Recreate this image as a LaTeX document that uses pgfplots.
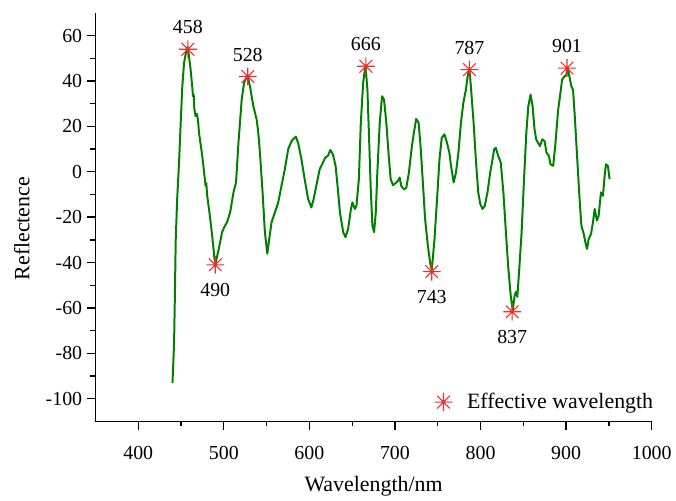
\documentclass[border=0pt]{standalone}
\usepackage{pgfplots}
\pgfplotsset{compat=1.18}
\usepackage{fontspec}
\setmainfont{Liberation Serif}
\definecolor{curvegreen}{RGB}{0,128,0}
\definecolor{starred}{RGB}{240,45,45}
\pgfdeclareplotmark{star8}{%
  \pgfpathmoveto{\pgfqpoint{-\pgfplotmarksize}{0pt}}%
  \pgfpathlineto{\pgfqpoint{\pgfplotmarksize}{0pt}}%
  \pgfpathmoveto{\pgfqpoint{0pt}{-\pgfplotmarksize}}%
  \pgfpathlineto{\pgfqpoint{0pt}{\pgfplotmarksize}}%
  \pgfpathmoveto{\pgfqpoint{-0.7071\pgfplotmarksize}{-0.7071\pgfplotmarksize}}%
  \pgfpathlineto{\pgfqpoint{0.7071\pgfplotmarksize}{0.7071\pgfplotmarksize}}%
  \pgfpathmoveto{\pgfqpoint{-0.7071\pgfplotmarksize}{0.7071\pgfplotmarksize}}%
  \pgfpathlineto{\pgfqpoint{0.7071\pgfplotmarksize}{-0.7071\pgfplotmarksize}}%
  \pgfusepathqstroke}
\begin{document}
\begin{tikzpicture}
\begin{axis}[
  scale only axis,
  width=419.5pt, height=308pt,
  xmin=350, xmax=1000, ymin=-110, ymax=70,
  axis lines=left,
  axis line style={-, line width=1.1pt},
  xtick={400,500,600,700,800,900,1000},
  xticklabels={400,500,600,700,800,900,1000},
  ytick={-100,-80,-60,-40,-20,0,20,40,60},
  yticklabels={-100,-80,-60,-40,-20,0,20,40,60},
  minor x tick num=1, minor y tick num=1,
  tick align=outside,
  major tick length=6.5pt, minor tick length=3.8pt,
  every tick/.style={black, line width=1pt},
  tick label style={font=\rmfamily\fontsize{15}{18}\selectfont},
  xticklabel style={yshift=-9pt},
  xlabel={Wavelength/nm}, ylabel={Reflectence},
  label style={font=\rmfamily\fontsize{16.5}{20}\selectfont},
  xlabel style={at={(rel axis cs:0.5,-0.159)}, anchor=center},
  ylabel style={at={(rel axis cs:-0.1323,0.472)}, anchor=center},
  clip=false,
  legend style={draw=none, fill=none, font=\rmfamily\fontsize{16.5}{20}\selectfont,
    at={(rel axis cs:1.015,0.047)}, anchor=east,
    /tikz/every odd column/.append style={column sep=9pt}},
  legend cell align=left,
]
\path (rel axis cs:-0.1716,-0.171) rectangle (rel axis cs:1.037,1.0317);
\addplot[curvegreen, line width=1.5pt, line join=round, no marks, forget plot] coordinates {
(440,-93.1) (441,-84) (441.9,-75) (442.8,-55) (443.8,-30) (445.5,-12) (447.7,4.1)
(450,25) (451.5,37.6) (453.5,47.9) (455.5,52) (457.4,55) (459,52) (461.2,45)
(463,38) (464,33.3) (464.8,34) (465.5,28) (467,24.5) (468.5,25.5) (469.8,23)
(471,17.3) (474.8,7) (477.5,-2) (478.7,-6.2) (479.5,-5) (480.6,-10.6) (483.7,-19.4)
(486.4,-28.1) (489.1,-38.3) (490.3,-40.5) (492,-37.5) (494.2,-33.9) (498,-26.6)
(501,-24) (503.8,-22.2) (507.4,-17.9) (511.3,-9.1) (514.3,-4.7) (517.1,12.8)
(520.9,31.8) (523.6,39.1) (527.6,42.5) (530.6,37.6) (534.5,28.9) (538.4,23)
(540.3,17.2) (542.2,8.4) (545.3,-9.1) (548,-26.6) (550.8,-36.1) (553.1,-29.6)
(555.8,-22.2) (559.7,-17.9) (563.6,-13.5) (567.4,-6.2) (571.3,1.1) (575.2,9.9)
(579.1,13.5) (584.1,15.5) (586.8,12.8) (590.7,5.5) (594.5,-3.3) (598.5,-12)
(602.3,-15.7) (605,-12) (608.1,-6.2) (612,1.1) (615.9,4.1) (618.6,6.3) (621.7,7)
(624.4,9.6) (627.5,7.7) (630.6,2.6) (632.9,-6.2) (635.7,-17.9) (639.5,-26.6)
(642.2,-28.8) (645.3,-25.2) (648.5,-16.4) (650.3,-13.5) (653.1,-16.4) (655,-15)
(657.8,-3.3) (660.1,21.6) (662.8,39.1) (665.5,47) (667.8,36.2) (669.8,14.3)
(671.7,-7.6) (673.6,-23.7) (675.6,-26.6) (677.6,-17.9) (679.4,-0.3) (682.2,21.6)
(684.9,33.3) (687.2,31.8) (689.9,21.6) (692.7,7) (695,-3.3) (697.7,-5.9)
(700.8,-5) (703.5,-4) (705.5,-2.5) (707.3,-6.2) (710.1,-7.6) (713.1,-7.3)
(716.3,-0.3) (719.8,11.3) (722.1,17.2) (724.8,23.3) (727.6,21.6) (729.9,11.3)
(732.6,-4.7) (735.2,-20.8) (738.4,-32.5) (741,-39.8) (743,-43.5) (746.2,-29.6)
(749.2,-12) (752,5.5) (754.7,15) (757.8,16.5) (760.8,12.8) (763.6,8.4)
(765.5,2.6) (768.6,-4.7) (771.3,-0.3) (774.1,8.4) (777.1,21.6) (779.9,30.4)
(782.9,36.2) (784.9,42) (786.9,45.5) (788.7,37.6) (791.9,21.6) (794.5,5.5)
(797.3,-9.1) (799.7,-14.2) (802.3,-16.4) (805,-15) (808.1,-9.1) (811.3,-0.3)
(814,5.5) (815.9,9.9) (817.8,10.6) (820.6,7) (823.6,4.1) (826.7,-9.1)
(829.4,-25.2) (832.2,-41.3) (835.2,-54.4) (837.6,-61) (839.9,-54.4) (841.5,-52.9)
(843,-55.1) (845,-44.2) (848,-26.6) (850.8,-3.3) (853.5,17.2) (855.8,28.9)
(858.5,34) (860.8,28.9) (863.1,18.7) (865,14.3) (867.1,12.8) (869.4,11.3)
(872.1,14.3) (874.8,13.5) (877.1,8.4) (879.9,7) (881.7,3.3) (884.9,2.6)
(887.6,12.8) (890.7,27.4) (892.6,32.6) (895.3,40.6) (898,42) (900,42.5)
(902,45.7) (903.8,42) (906.2,37.6) (908.1,36.2) (910.1,24.5) (912.8,7)
(915.5,-10.6) (917.8,-23.7) (920.6,-27.4) (922.5,-31) (924.4,-34) (926.4,-29.6)
(929.1,-27.4) (931.4,-22.2) (933.4,-16.4) (936,-21.5) (938,-19.4) (940.7,-9.1)
(943,-10.6) (945,-1.8) (946.5,3.3) (948.8,2.6) (950.8,-3.3)
};
\addplot[only marks, mark=star8, mark size=6.75pt, starred, mark options={line width=0.8pt},
  nodes near coords, point meta=explicit symbolic,
  every node near coord/.append style={black, anchor=center, yshift=16.5pt, font=\rmfamily\fontsize{15}{18}\selectfont}]
  coordinates {(458,54) [458] (528,42) [528] (666,46.5) [666] (787,45) [787] (901,45.7) [901]};
\addlegendentry{Effective wavelength}
\addplot[only marks, mark=star8, mark size=6.75pt, starred, mark options={line width=0.8pt}, forget plot,
  nodes near coords, point meta=explicit symbolic,
  every node near coord/.append style={black, anchor=center, yshift=-19pt, font=\rmfamily\fontsize{15}{18}\selectfont}]
  coordinates {(490,-41) [490] (743,-44) [743] (837,-61.7) [837]};
\end{axis}
\end{tikzpicture}
\end{document}
